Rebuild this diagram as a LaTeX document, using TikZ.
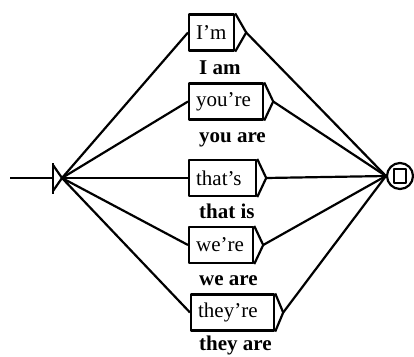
\documentclass[tikz,border=0pt]{standalone}
\usepackage{fontspec}
\setmainfont{Liberation Serif}
\begin{document}
\begin{tikzpicture}[x=1pt,y=-1pt, line width=2.2pt, line join=round,
  box/.style={draw, line width=2.2pt, minimum height=36pt, inner ysep=0pt, inner xsep=7pt,
    text width=#1, align=left, anchor=west, font=\fontsize{21}{21}\selectfont},
  lab/.style={anchor=base west, inner sep=0pt, font=\fontsize{21}{21}\selectfont\bfseries}]
\useasboundingbox (0,0) rectangle (414,356);
% initial state
\coordinate (i0) at (10,178);
\coordinate (iv) at (53,178);
\coordinate (ia) at (62,178);
\draw (i0) -- (iv);
\draw (53,163) -- (53,194);
\draw (53,165) -- (ia) -- (53,191);
% boxes
\node[box=31pt] (b1) at (188,32.5) {I'm};
\node[box=60pt] (b2) at (188,101.5) {you're};
\node[box=53pt] (b3) at (188,178) {that's};
\node[box=50pt] (b4) at (188,245) {we're};
\node[box=69pt] (b5) at (190,312.5) {they're};
\foreach \i/\d in {1/11,2/9,3/9,4/9,5/8}{
  \draw (b\i.north east) -- ([xshift=\d pt]b\i.east) coordinate (t\i) -- (b\i.south east);
}
% labels
\node[lab] (l1) at (198,74) {I am};
\node[lab] (l2) at (198,142) {you are};
\node[lab] (l3) at (198,218) {that is};
\node[lab] (l4) at (198,285) {we are};
\node[lab] (l5) at (198,350) {they are};
% final state
\node[circle, draw, minimum size=26pt, inner sep=0pt] (fin) at (400,176) {};
\node[draw, minimum width=12pt, minimum height=14pt, inner sep=0pt] (fsq) at (fin) {};
% edges
\foreach \i in {1,...,5}{
  \draw (ia) -- (b\i.west);
  \draw (t\i) -- (fin.west);
}
\end{tikzpicture}
\end{document}
